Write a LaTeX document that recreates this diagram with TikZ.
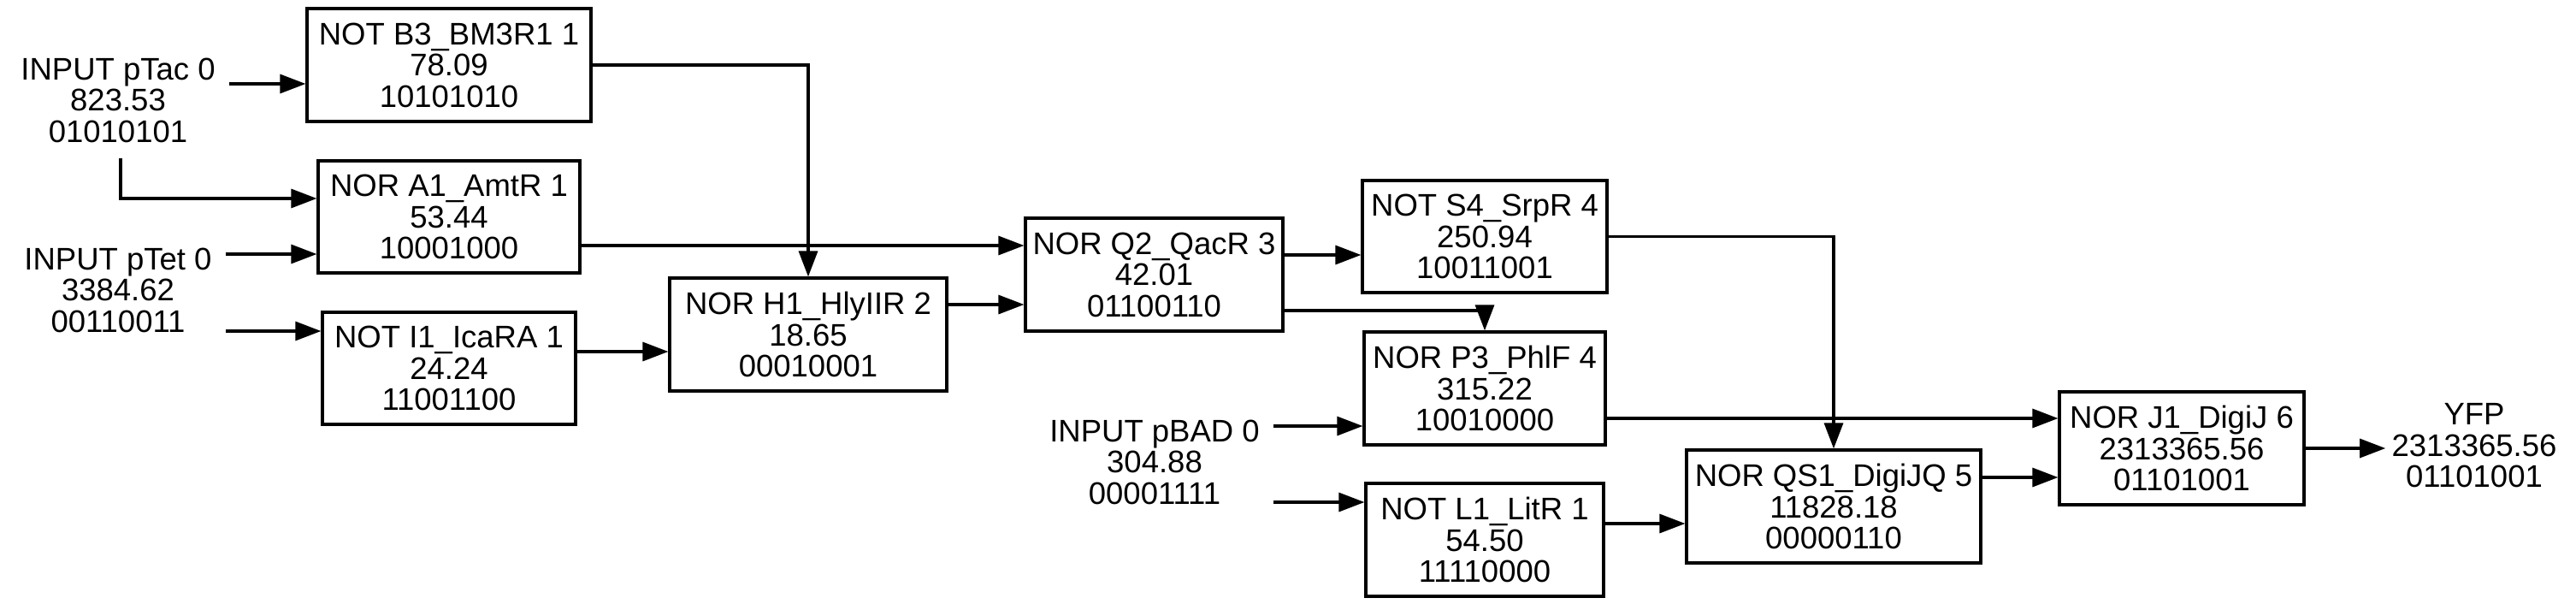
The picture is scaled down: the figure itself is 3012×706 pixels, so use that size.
\documentclass[tikz,border=0pt]{standalone}
\usepackage{fontspec}
\setmainfont{Liberation Sans}
\usetikzlibrary{arrows.meta}
\begin{document}
\begin{tikzpicture}[x=0.5pt,y=-0.5pt,
  lbl/.style={font=\fontsize{18.25}{18.25}\selectfont, align=center},
  gate/.style={lbl, draw, line width=1.6pt, inner sep=0pt},
  io/.style={lbl, inner xsep=8pt, inner ysep=9pt},
  arr/.style={line width=1.6pt, -{Triangle[length=15pt,width=11pt]}}]
\useasboundingbox (0,0) rectangle (3012,706);
\fill[white] (0,0) rectangle (3012,706);
% inputs / output
\node[io] (pTac) at (138,117) {INPUT pTac 0\\823.53\\01010101};
\node[io] (pTet) at (138,339) {INPUT pTet 0\\3384.62\\00110011};
\node[io] (pBAD) at (1350,540) {INPUT pBAD 0\\304.88\\00001111};
\node[io, inner xsep=3.5pt] (YFP) at (2893,521) {YFP\\2313365.56\\01101001};
% gates
\node[gate, minimum width=166pt, minimum height=66pt] (B3) at (525,76) {NOT B3\_BM3R1 1\\78.09\\10101010};
\node[gate, minimum width=153pt, minimum height=65.5pt] (A1) at (525,253.5) {NOR A1\_AmtR 1\\53.44\\10001000};
\node[gate, minimum width=148pt, minimum height=65.5pt] (I1) at (525,430.5) {NOT I1\_IcaRA 1\\24.24\\11001100};
\node[gate, minimum width=162pt, minimum height=66pt] (H1) at (945,391) {NOR H1\_HlyIIR 2\\18.65\\00010001};
\node[gate, minimum width=150.5pt, minimum height=66pt] (Q2) at (1349.5,321) {NOR Q2\_QacR 3\\42.01\\01100110};
\node[gate, minimum width=143pt, minimum height=65.5pt] (S4) at (1736,276.5) {NOT S4\_SrpR 4\\250.94\\10011001};
\node[gate, minimum width=141pt, minimum height=66pt] (P3) at (1736,454) {NOR P3\_PhlF 4\\315.22\\10010000};
\node[gate, minimum width=139pt, minimum height=66pt] (L1) at (1736,631) {NOT L1\_LitR 1\\54.50\\11110000};
\node[gate, minimum width=172pt, minimum height=66pt] (QS1) at (2144,592) {NOR QS1\_DigiJQ 5\\11828.18\\00000110};
\node[gate, minimum width=143pt, minimum height=66pt] (J1) at (2551,524) {NOR J1\_DigiJ 6\\2313365.56\\01101001};
% connectors
\draw[arr] (pTac.east |- 0,98) -- (B3.west |- 0,98);
\draw[arr] (pTac.south -| 141,0) |- (A1.west |- 0,232);
\draw[arr] (pTet.east |- 0,297) -- (A1.west |- 0,297);
\draw[arr] (pTet.east |- 0,387) -- (I1.west |- 0,387);
\draw[arr] (B3.east) -| (H1.north);
\draw[arr] (A1.east |- 0,287) -- (Q2.west |- 0,287);
\draw[arr] (I1.east |- 0,411) -- (H1.west |- 0,411);
\draw[arr] (H1.east |- 0,356) -- (Q2.west |- 0,356);
\draw[arr] (Q2.east |- 0,298) -- (S4.west |- 0,298);
\draw[arr] (Q2.east |- 0,363) -| (P3.north);
\draw[arr] (S4.east) -| (QS1.north);
\draw[arr] (P3.east |- 0,489) -- (J1.west |- 0,489);
\draw[arr] (pBAD.east |- 0,498) -- (P3.west |- 0,498);
\draw[arr] (pBAD.east |- 0,587) -- (L1.west |- 0,587);
\draw[arr] (L1.east |- 0,612) -- (QS1.west |- 0,612);
\draw[arr] (QS1.east |- 0,558) -- (J1.west |- 0,558);
\draw[arr] (J1.east) -- (YFP.west |- J1.east);
\end{tikzpicture}
\end{document}
